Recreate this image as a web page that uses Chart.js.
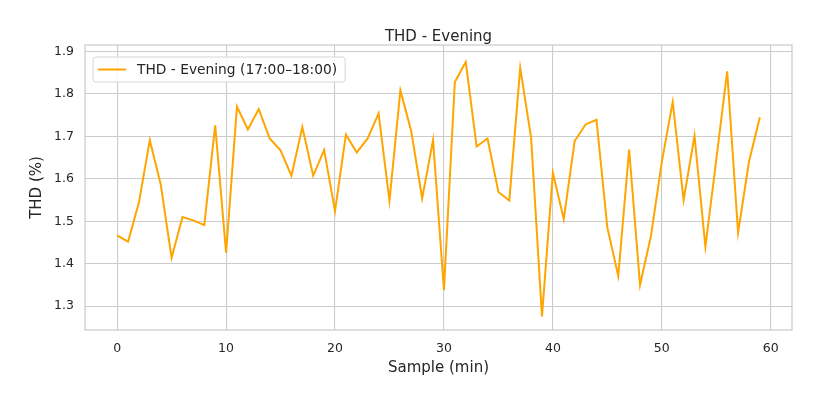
<!DOCTYPE html>
<html>
<head>
<meta charset="utf-8">
<script src="https://cdn.jsdelivr.net/npm/chart.js@4/dist/chart.umd.min.js"></script>
<style>
html,body{margin:0;padding:0;background:#fff;}
#wrap{width:824px;height:393px;position:relative;}
</style>
</head>
<body>
<div id="wrap"><canvas id="c" width="824" height="393"></canvas></div>
<script>
const chartTitle = "THD - Evening";
const seriesLabel = "THD - Evening (17:00–18:00)";
const xTitle = "Sample (min)";
const yTitle = "THD (%)";
const samples = Array.from({length: 60}, (_, i) => i);
const thdValues = [
  1.467, 1.452, 1.544, 1.691, 1.587, 1.414, 1.510, 1.502, 1.491, 1.726,
  1.426, 1.770, 1.716, 1.764, 1.695, 1.667, 1.607, 1.722, 1.607, 1.668,
  1.524, 1.704, 1.662, 1.695, 1.754, 1.548, 1.808, 1.712, 1.554, 1.691,
  1.338, 1.828, 1.875, 1.676, 1.695, 1.569, 1.549, 1.861, 1.697, 1.276,
  1.614, 1.505, 1.689, 1.728, 1.739, 1.485, 1.371, 1.669, 1.350, 1.465,
  1.640, 1.781, 1.550, 1.701, 1.440, 1.645, 1.853, 1.473, 1.640, 1.745
];
const xTicks = [0, 10, 20, 30, 40, 50, 60];
const yTicks = [1.3, 1.4, 1.5, 1.6, 1.7, 1.8, 1.9];

const TEXT = '#262626';
const GRID = '#cccccc';
const FONT = "'DejaVu Sans', sans-serif";

const framePlugin = {
  id: 'frame',
  afterDatasetsDraw(chart) {
    const {ctx, chartArea: a} = chart;
    ctx.save();
    ctx.strokeStyle = GRID;
    ctx.lineWidth = 1.25;
    ctx.strokeRect(a.left, a.top, a.right - a.left, a.bottom - a.top);
    ctx.restore();
  }
};

const titlePlugin = {
  id: 'plotTitle',
  afterDraw(chart) {
    const {ctx, chartArea: a} = chart;
    ctx.save();
    ctx.font = "15px " + FONT;
    ctx.fillStyle = TEXT;
    ctx.textAlign = 'center';
    ctx.textBaseline = 'middle';
    ctx.fillText(chartTitle, (a.left + a.right) / 2, a.top - 8);
    ctx.restore();
  }
};

const legendPlugin = {
  id: 'innerLegend',
  afterDraw(chart) {
    const {ctx, chartArea: a} = chart;
    const ds = chart.data.datasets[0];
    ctx.save();
    ctx.font = "13.8px " + FONT;
    const tw = ctx.measureText(ds.label).width;
    const x = a.left + 8, y = a.top + 12;
    const w = 44 + tw + 8, h = 25;
    const r = 3;
    ctx.beginPath();
    ctx.moveTo(x + r, y);
    ctx.arcTo(x + w, y, x + w, y + h, r);
    ctx.arcTo(x + w, y + h, x, y + h, r);
    ctx.arcTo(x, y + h, x, y, r);
    ctx.arcTo(x, y, x + w, y, r);
    ctx.closePath();
    ctx.fillStyle = 'rgba(255,255,255,0.85)';
    ctx.fill();
    ctx.strokeStyle = '#d6d6d6';
    ctx.lineWidth = 1;
    ctx.stroke();
    ctx.strokeStyle = ds.borderColor;
    ctx.lineWidth = 2;
    ctx.beginPath();
    ctx.moveTo(x + 5, y + h / 2);
    ctx.lineTo(x + 33, y + h / 2);
    ctx.stroke();
    ctx.fillStyle = TEXT;
    ctx.textBaseline = 'middle';
    ctx.fillText(ds.label, x + 44, y + h / 2 + 0.5);
    ctx.restore();
  }
};

new Chart(document.getElementById('c'), {
  type: 'line',
  data: {
    labels: samples,
    datasets: [{
      label: seriesLabel,
      data: samples.map((s, i) => ({x: s, y: thdValues[i]})),
      borderColor: '#FFA500',
      backgroundColor: '#FFA500',
      borderWidth: 2,
      pointRadius: 0,
      tension: 0,
      fill: false
    }]
  },
  options: {
    responsive: false,
    animation: false,
    devicePixelRatio: 1,
    layout: {padding: {left: 0, right: 32, top: 45, bottom: 0}},
    plugins: {
      legend: {display: false},
      tooltip: {enabled: false},
      title: {display: false}
    },
    scales: {
      x: {
        type: 'linear',
        min: -2.95,
        max: 61.95,
        afterBuildTicks(axis) { axis.ticks = xTicks.map(v => ({value: v})); },
        afterFit(axis) { axis.height = 63; },
        ticks: {color: TEXT, font: {family: FONT, size: 12.5}, padding: 11, maxRotation: 0},
        grid: {color: GRID, lineWidth: 1.1, drawTicks: false},
        border: {display: false},
        title: {display: true, text: xTitle, color: TEXT, font: {family: FONT, size: 15}, padding: {top: 0, bottom: 16}}
      },
      y: {
        type: 'linear',
        min: 1.244,
        max: 1.915,
        afterBuildTicks(axis) { axis.ticks = yTicks.map(v => ({value: v})); },
        afterFit(axis) { axis.width = 85; },
        ticks: {color: TEXT, font: {family: FONT, size: 12.5}, padding: 11, callback: v => v.toFixed(1)},
        grid: {color: GRID, lineWidth: 1.1, drawTicks: false},
        border: {display: false},
        title: {display: true, text: yTitle, color: TEXT, font: {family: FONT, size: 15}, padding: {top: 28, bottom: 0}}
      }
    }
  },
  plugins: [framePlugin, titlePlugin, legendPlugin]
});
</script>
</body>
</html>
